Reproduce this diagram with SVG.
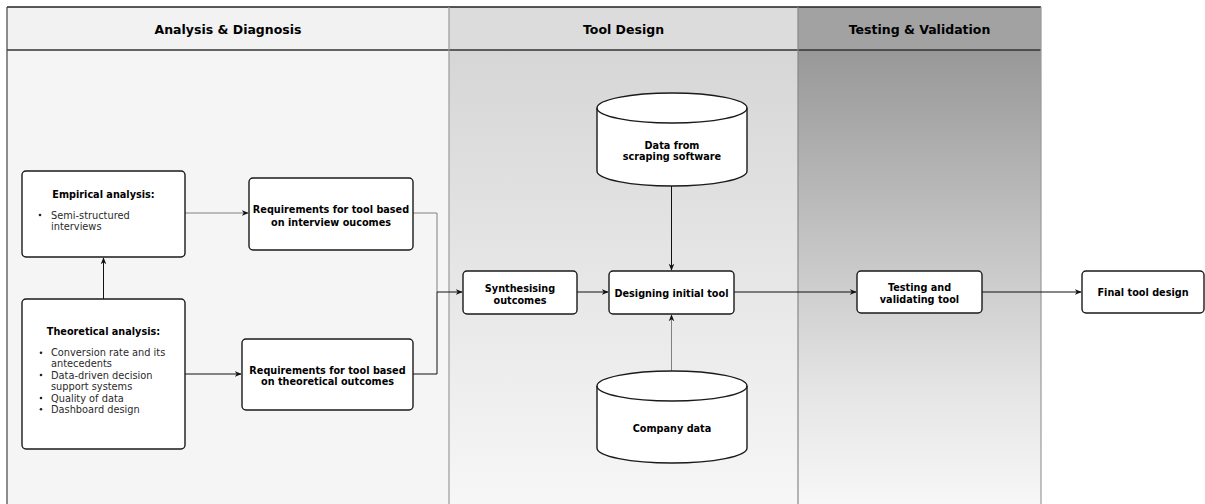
<svg xmlns="http://www.w3.org/2000/svg" width="1205" height="504" viewBox="0 0 1205 504">
  <defs>
    <linearGradient id="bodyDesign" x1="0" y1="0" x2="0" y2="1">
      <stop offset="0" stop-color="#d6d6d6"/>
      <stop offset="1" stop-color="#f7f7f7"/>
    </linearGradient>
    <linearGradient id="bodyTest" x1="0" y1="0" x2="0" y2="1">
      <stop offset="0" stop-color="#989898"/>
      <stop offset="0.75" stop-color="#e6e6e6"/>
      <stop offset="1" stop-color="#f8f8f8"/>
    </linearGradient>
    <marker id="arrow" viewBox="0 0 10 10" refX="9" refY="5" markerWidth="7" markerHeight="7" markerUnits="userSpaceOnUse" orient="auto">
      <path d="M0,1 L10,5 L0,9 L3,5 Z" fill="#111"/>
    </marker>
    <style>
      .box { fill: #ffffff; stroke: #1a1a1a; stroke-width: 1.4; }
      .title { font-family: "DejaVu Sans", Verdana, sans-serif; font-weight: bold; font-size: 9.7px; fill: #000; text-anchor: middle; }
      .item { font-family: "DejaVu Sans", Verdana, sans-serif; font-size: 9.8px; fill: #2a2a2a; }
      .lane-title { font-family: "DejaVu Sans", Verdana, sans-serif; font-weight: bold; font-size: 12.5px; fill: #000; text-anchor: middle; }
      .edge { fill: none; stroke: #111; stroke-width: 1; }
      .edge-soft { fill: none; stroke: #808080; stroke-width: 1; }
      .dot { fill: #222; }
    </style>
  </defs>

  <!-- swimlanes -->
  <g id="lanes">
    <rect x="7" y="7" width="442" height="43" fill="#f2f2f2"/>
    <rect x="7" y="50" width="442" height="460" fill="#f5f5f5"/>
    <rect x="449" y="7" width="349" height="43" fill="#dcdcdc"/>
    <rect x="449" y="50" width="349" height="460" fill="url(#bodyDesign)"/>
    <rect x="798" y="7" width="243" height="43" fill="#a2a2a2"/>
    <rect x="798" y="50" width="243" height="460" fill="url(#bodyTest)"/>
    <line x1="7" y1="7" x2="1041" y2="7" stroke="#222" stroke-width="1.5"/>
    <line x1="7" y1="50" x2="1041" y2="50" stroke="#333" stroke-width="1.3"/>
    <line x1="7" y1="7" x2="7" y2="504" stroke="#444" stroke-width="1.2"/>
    <line x1="449" y1="7" x2="449" y2="504" stroke="#999" stroke-width="1.2"/>
    <line x1="798" y1="7" x2="798" y2="504" stroke="#888" stroke-width="1.2"/>
    <line x1="1041" y1="7" x2="1041" y2="504" stroke="#999" stroke-width="1.2"/>
    <text class="lane-title" x="228" y="33.5">Analysis &amp; Diagnosis</text>
    <text class="lane-title" x="623.5" y="33.5">Tool Design</text>
    <text class="lane-title" x="919.5" y="33.5">Testing &amp; Validation</text>
  </g>

  <!-- connectors -->
  <g id="connectors">
    <path class="edge-soft" d="M185,213 H248" marker-end="url(#arrow)"/>
    <path class="edge-soft" d="M413,213 H437 V292"/>
    <path class="edge" d="M185,374 H241" marker-end="url(#arrow)"/>
    <path class="edge" d="M103.5,299 V258" marker-end="url(#arrow)"/>
    <path class="edge" d="M413,374 H437 V292 H462" marker-end="url(#arrow)"/>
    <path class="edge" d="M577,292 H608" marker-end="url(#arrow)"/>
    <path class="edge" d="M671.5,186 V270" marker-end="url(#arrow)" stroke="#333"/>
    <path class="edge-soft" d="M671.5,371 V315" marker-end="url(#arrow)"/>
    <path class="edge" d="M734,292 H856" marker-end="url(#arrow)"/>
    <path class="edge" d="M982,292 H1081" marker-end="url(#arrow)"/>
  </g>

  <g id="empirical">
    <rect class="box" x="22" y="171" width="163" height="86" rx="4"/>
    <text class="title" x="103.5" y="197.5">Empirical analysis:</text>
    <circle class="dot" cx="40" cy="215" r="1.3"/>
    <text class="item" x="51" y="218.5">Semi-structured</text>
    <text class="item" x="51" y="230">interviews</text>
  </g>

  <g id="theoretical">
    <rect class="box" x="22" y="299" width="163" height="150" rx="4"/>
    <text class="title" x="103.5" y="335">Theoretical analysis:</text>
    <circle class="dot" cx="41" cy="352.7" r="1.3"/>
    <circle class="dot" cx="41" cy="375" r="1.3"/>
    <circle class="dot" cx="41" cy="398" r="1.3"/>
    <circle class="dot" cx="41" cy="409.3" r="1.3"/>
    <text class="item" x="51" y="356">Conversion rate and its</text>
    <text class="item" x="51" y="367">antecedents</text>
    <text class="item" x="51" y="378.5">Data-driven decision</text>
    <text class="item" x="51" y="390">support systems</text>
    <text class="item" x="51" y="401.5">Quality of data</text>
    <text class="item" x="51" y="412.7">Dashboard design</text>
  </g>

  <g id="req-interview">
    <rect class="box" x="249" y="178" width="164" height="72" rx="4"/>
    <text class="title" x="331" y="212.5">Requirements for tool based</text>
    <text class="title" x="331" y="225.5">on interview oucomes</text>
  </g>

  <g id="req-theory">
    <rect class="box" x="242" y="339" width="171" height="71" rx="4"/>
    <text class="title" x="327.5" y="373.5">Requirements for tool based</text>
    <text class="title" x="327.5" y="385">on theoretical outcomes</text>
  </g>

  <g id="synthesising">
    <rect class="box" x="463" y="271" width="114" height="43" rx="4"/>
    <text class="title" x="520" y="291.5">Synthesising</text>
    <text class="title" x="520" y="303.5">outcomes</text>
  </g>

  <g id="scraping-data">
    <path class="box" d="M597,108 A75,15 0 0 1 747,108 V171 A75,15 0 0 1 597,171 Z"/>
    <path fill="none" stroke="#1a1a1a" stroke-width="1.4" d="M597,108 A75,15 0 0 0 747,108"/>
    <text class="title" x="672" y="148.5">Data from</text>
    <text class="title" x="672" y="160">scraping software</text>
  </g>

  <g id="designing">
    <rect class="box" x="609" y="271" width="125" height="43" rx="4"/>
    <text class="title" x="671.5" y="296.5">Designing initial tool</text>
  </g>

  <g id="company-data">
    <path class="box" d="M597,386 A75,15 0 0 1 747,386 V448 A75,15 0 0 1 597,448 Z"/>
    <path fill="none" stroke="#1a1a1a" stroke-width="1.4" d="M597,386 A75,15 0 0 0 747,386"/>
    <text class="title" x="672" y="431.5">Company data</text>
  </g>

  <g id="testing">
    <rect class="box" x="857" y="271" width="125" height="42" rx="4"/>
    <text class="title" x="919.5" y="291">Testing and</text>
    <text class="title" x="919.5" y="302.5">validating tool</text>
  </g>

  <g id="final-design">
    <rect class="box" x="1082" y="271" width="122" height="42" rx="4"/>
    <text class="title" x="1143" y="296">Final tool design</text>
  </g>
</svg>
